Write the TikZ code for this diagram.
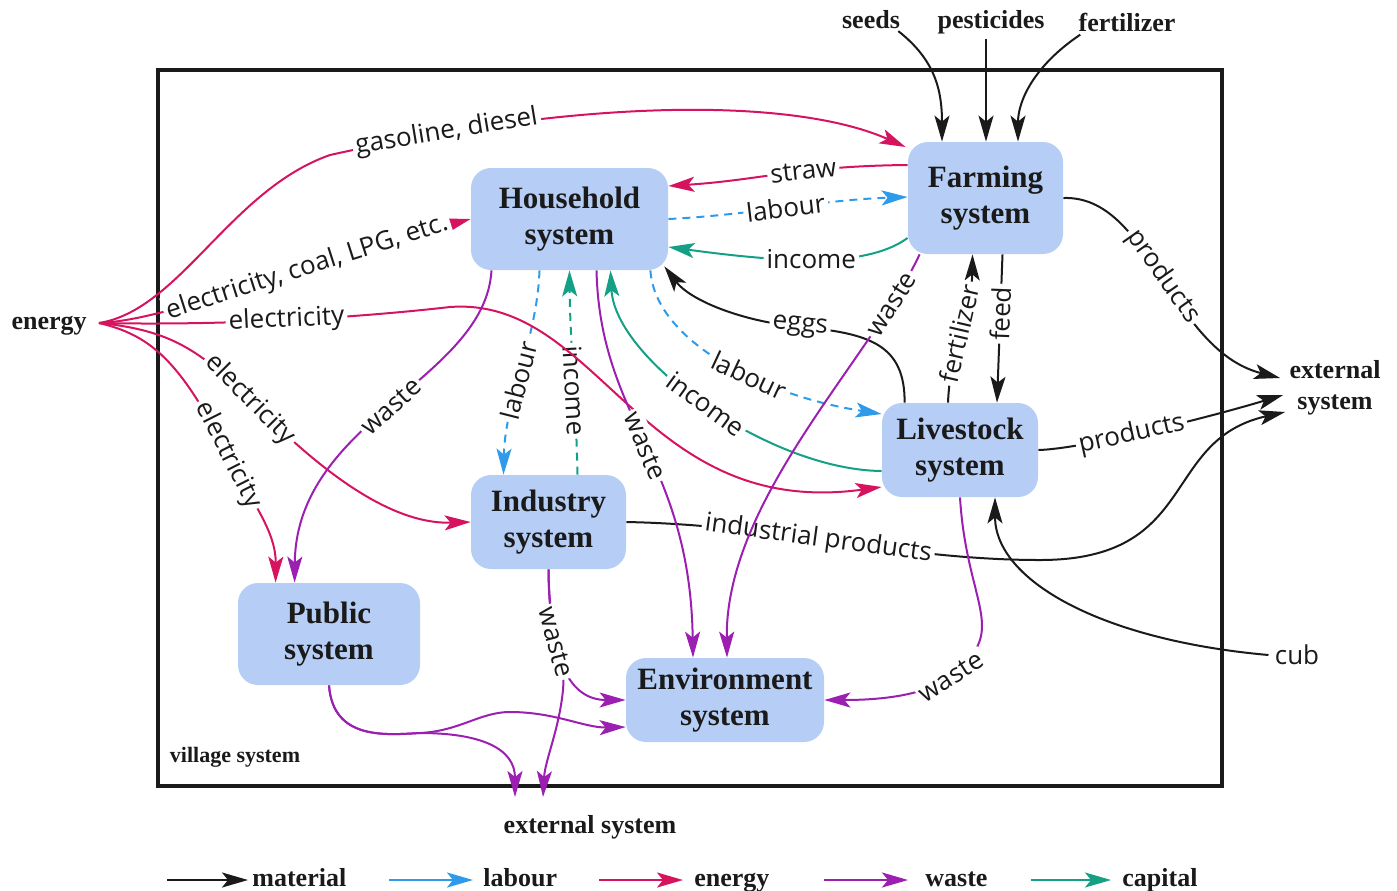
\documentclass[tikz,border=0pt]{standalone}
\usepackage{fontspec}
\setmainfont{Liberation Serif}
\newfontfamily\labfont{Open Sans}
\usetikzlibrary{arrows.meta,calc,backgrounds}
\definecolor{cEn}{HTML}{D6135F}
\definecolor{cLb}{HTML}{2E9BEA}
\definecolor{cWs}{HTML}{9B1FB0}
\definecolor{cCp}{HTML}{14A085}
\definecolor{cBox}{HTML}{B6CEF5}
\definecolor{cTxt}{HTML}{1A1A1A}
\begin{document}
\begin{tikzpicture}[x=0.5pt,y=-0.5pt,
  >={Stealth[length=13pt,width=7.5pt,inset=3pt]},
  flow/.style={line width=1pt,->},
  flowM/.style={flow,draw=cTxt},
  flowE/.style={flow,draw=cEn},
  flowW/.style={flow,draw=cWs},
  flowC/.style={flow,draw=cCp},
  flowCd/.style={flowC,dash pattern=on 4pt off 3pt},
  flowL/.style={flow,draw=cLb,dash pattern=on 4pt off 3pt},
  legline/.style={line width=1.2pt,->},
  box/.style={fill=cBox,rounded corners=10pt,align=center,inner sep=0pt,
    font=\bfseries\fontsize{15.5}{18}\selectfont,text=cTxt},
  lab/.style={font=\labfont\fontsize{13}{15}\selectfont,fill=white,inner sep=1.5pt,text=cTxt},
  tit/.style={font=\bfseries\fontsize{13}{15.5}\selectfont,text=cTxt,inner sep=0pt},
]
\useasboundingbox (0,0) rectangle (1397,890);

% system boxes
\node[box,minimum width=98.5pt,minimum height=51pt] (H) at (569.5,219) {Household\\system};
\node[box,minimum width=77.5pt,minimum height=56pt] (F) at (985.5,198) {Farming\\system};
\node[box,minimum width=78pt,minimum height=47pt] (L) at (960,450) {Livestock\\system};
\node[box,minimum width=77.5pt,minimum height=47pt] (I) at (548.5,522) {Industry\\system};
\node[box,minimum width=91pt,minimum height=51pt] (P) at (329,634) {Public\\system};
\node[box,minimum width=99pt,minimum height=42pt] (Env) at (725,700) {Environment\\system};

% outer labels
\node[tit,anchor=base east,inner xsep=6pt] (energy) at (99,329) {energy};
\coordinate (efan) at ($(energy.base east)+(0,-6)$);
\node[tit,anchor=base] (seeds) at (871,28) {seeds};
\node[tit,anchor=base] (pest) at (991,28) {pesticides};
\node[tit,anchor=base] (fertT) at (1127,31) {fertilizer};
\node[tit,align=center] (extR) at (1335,388) {external\\system};
\node[tit,anchor=base] (extB) at (590,833) {external system};
\node[lab,fill=none,inner sep=3pt] (cub) at (1297,655) {cub};
\node[font=\bfseries\fontsize{11}{13}\selectfont,text=cTxt,inner sep=0pt] (vs) at (235,757) {village system};
\coordinate (xb1) at (515,797);
\coordinate (xb2) at (543,797);

\begin{pgfonlayer}{background}
\draw[line width=2pt,cTxt] (158,70) rectangle (1222,786);

% labour and capital
\draw[flowL] (H.east) .. controls (750,215) and (820,200) .. ($(F.west)+(0,-1)$) node[lab,sloped,pos=.5]{labour};
\draw[flowC] ($(F.west)+(0,40)$) .. controls (870,265) and (800,265) .. ($(H.east)+(0,28)$) node[lab,sloped,pos=.55]{income};
\draw[flowL] ($(H.south east)+(-18,0)$) .. controls (655,340) and (760,395) .. ($(L.west)+(0,-36)$) node[lab,sloped,pos=.6]{labour};
\draw[flowC] ($(L.west)+(0,21)$) .. controls (770,470) and (615,360) .. ($(H.south)+(41,0)$) node[lab,sloped,pos=.5]{income};
\draw[flowL] ($(H.south)+(-30,0)$) .. controls (537,340) and (505,400) .. ($(I.north)+(-45,0)$) node[lab,sloped,pos=.55]{labour};
\draw[flowCd] ($(I.north)+(29,0)$) .. controls (576,400) and (570,340) .. (H.south) node[lab,sloped,pos=.4]{income};

% material
\draw[flowM] ($(L.north west)+(23,0)$) .. controls (905,345) and (870,333) .. (800,327) node[lab,sloped,pos=1]{eggs} .. controls (740,321) and (690,300) .. ($(H.south east)+(-4,-4)$);
\draw[flowM] (F.east) .. controls (1150,195) and (1170,350) .. ($(extR.west)+(-9,-10)$) node[lab,sloped,pos=.5]{products};
\draw[flowM] (L.east) .. controls (1080,449) and (1200,420) .. ($(extR.west)+(-6,7)$) node[lab,sloped,pos=.45]{products};
\draw[flowM] (I.east) .. controls (780,525) and (900,560) .. (1040,560) node[lab,sloped,pos=.45]{industrial products} .. controls (1200,560) and (1160,440) .. ($(extR.west)+(-4,24)$);
\draw[flowM] (cub.west) .. controls (1100,640) and (995,580) .. ($(L.south)+(35,0)$);
\draw[flowM] ($(L.north)+(-12,0)$) .. controls (950,350) and (972,300) .. ($(F.south)+(-13,0)$) node[lab,sloped,pos=.45]{fertilizer};
\draw[flowM] ($(F.south)+(17,0)$) -- ($(L.north)+(37,0)$) node[lab,sloped,pos=.4]{feed};
\draw[flowM] ($(seeds.east)+(-2,12)$) .. controls (935,60) and (942,90) .. ($(F.north)+(-43.5,0)$);
\draw[flowM] ($(pest.south)+(-5,5)$) -- ($(F.north)+(0.5,0)$);
\draw[flowM] ($(fertT.south west)+(2,3)$) .. controls (1035,65) and (1018,100) .. ($(F.north)+(32.5,0)$);

% energy
\draw[flowE] (efan) .. controls (180,310) and (230,190) .. (330,155) .. controls (600,95) and (800,100) .. ($(F.west)+(-2,-51)$) node[lab,sloped,pos=.15]{gasoline, diesel};
\draw[flowE] (efan) .. controls (170,320) and (300,265) .. (H.west) node[lab,sloped,pos=.65]{electricity, coal, LPG, etc.};
\draw[flowE] (efan) .. controls (250,326) and (380,315) .. (450,307) node[lab,sloped,pos=.45]{electricity} .. controls (600,296) and (640,520) .. ($(L.west)+(0,37)$);
\draw[flowE] (efan) .. controls (170,330) and (200,350) .. (250,400) node[lab,sloped,pos=1]{electricity} .. controls (300,450) and (380,525) .. (I.west);
\draw[flowE] (efan) .. controls (150,335) and (180,360) .. (228,455) node[lab,sloped,pos=1]{electricity} .. controls (250,500) and (276,530) .. ($(P.north west)+(38,0)$);
\draw[flowE] ($(F.west)+(0,-33)$) .. controls (800,166) and (760,180) .. ($(H.east)+(0,-33)$) node[lab,sloped,pos=.4]{straw};

% waste
\draw[flowW] ($(H.south)+(-78,0)$) .. controls (485,380) and (296,420) .. ($(P.north west)+(57,0)$) node[lab,sloped,pos=.5]{waste};
\draw[flowW] ($(H.south)+(27,0)$) .. controls (600,420) and (690,460) .. ($(Env.north)+(-32,0)$) node[lab,sloped,pos=.5]{waste};
\draw[flowW] ($(F.south west)+(12,0)$) .. controls (870,360) and (725,500) .. ($(Env.north)+(2,0)$) node[lab,sloped,pos=.15]{waste};
\draw[flowW] (L.south) .. controls (965,580) and (992,615) .. (978,645) .. controls (960,690) and (900,700) .. (Env.east) node[lab,sloped,pos=.3]{waste};
\draw[flowW] (I.south) .. controls (549,640) and (566,660) .. (563,690) .. controls (559,730) and (545,760) .. (xb2);
\draw[flowW] (I.south) .. controls (549,650) and (565,700) .. (Env.west) node[lab,sloped,pos=.35]{waste};
\draw[flowW] (P.south) .. controls (333,740) and (385,735) .. (420,733) .. controls (480,733) and (515,748) .. (xb1);
\draw[flowW] (P.south) .. controls (333,740) and (385,735) .. (420,733) .. controls (460,731) and (480,712) .. (510,712) .. controls (555,712) and (585,728) .. ($(Env.west)+(0,27)$);
\end{pgfonlayer}

% legend
\coordinate (lg1a) at (167,880); \coordinate (lg1b) at (248,880);
\coordinate (lg2a) at (389,880); \coordinate (lg2b) at (473,880);
\coordinate (lg3a) at (599,880); \coordinate (lg3b) at (683,880);
\coordinate (lg4a) at (824,880); \coordinate (lg4b) at (908,880);
\coordinate (lg5a) at (1031,880); \coordinate (lg5b) at (1111,880);
\draw[legline,cTxt] (lg1a) -- (lg1b);
\draw[legline,cLb] (lg2a) -- (lg2b);
\draw[legline,cEn] (lg3a) -- (lg3b);
\draw[legline,cWs] (lg4a) -- (lg4b);
\draw[legline,cCp] (lg5a) -- (lg5b);
\node[tit,anchor=base west] (lgt1) at (252,886) {material};
\node[tit,anchor=base west] (lgt2) at (483,886) {labour};
\node[tit,anchor=base west] (lgt3) at (694,886) {energy};
\node[tit,anchor=base west] (lgt4) at (925,886) {waste};
\node[tit,anchor=base west] (lgt5) at (1122,886) {capital};
\end{tikzpicture}
\end{document}
